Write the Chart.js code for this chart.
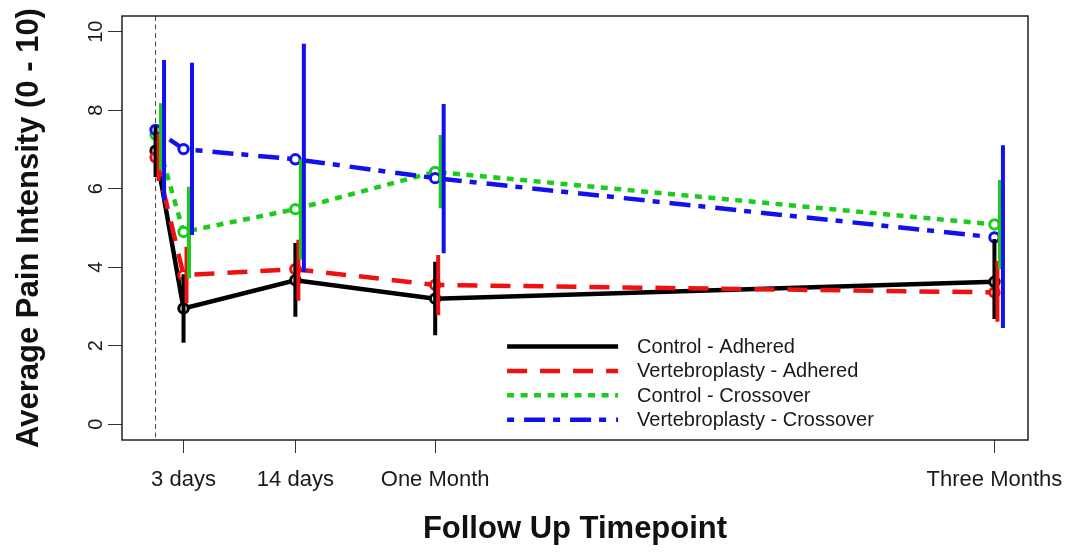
<!DOCTYPE html>
<html>
<head>
<meta charset="utf-8">
<title>Average Pain Intensity by Follow Up Timepoint</title>
<script src="https://cdn.jsdelivr.net/npm/chart.js@4.4.1/dist/chart.umd.min.js"></script>
<style>
  html, body { margin: 0; padding: 0; background: #fff; }
  #wrap { width: 1074px; height: 552px; }
</style>
</head>
<body>
<div id="wrap"><canvas id="painChart" width="1074" height="552"></canvas></div>
<script>
// Timepoints on the x axis (days, 0 = baseline)
var timepointX = [0, 2.8, 14, 28, 84];
var xTickLabels = ["3 days", "14 days", "One Month", "Three Months"];
var yTickValues = [0, 2, 4, 6, 8, 10];

var seriesNames = ["Control - Adhered", "Vertebroplasty - Adhered", "Control - Crossover", "Vertebroplasty - Crossover"];

// Mean pain score
var controlAdhered    = [6.97, 2.95, 3.67, 3.20, 3.63];
var vertebroAdhered   = [6.80, 3.80, 3.95, 3.55, 3.36];
var controlCrossover  = [7.38, 4.90, 5.48, 6.43, 5.09];
var vertebroCrossover = [7.50, 7.01, 6.75, 6.27, 4.76];

// Error bars (low / high)
var controlAdheredLow     = [6.30, 2.08, 2.74, 2.27, 2.68];
var controlAdheredHigh    = [7.60, 3.82, 4.62, 4.14, 4.72];
var vertebroAdheredLow    = [6.20, 3.09, 3.15, 2.78, 2.61];
var vertebroAdheredHigh   = [7.40, 4.52, 4.70, 4.31, 4.16];
var controlCrossoverLow   = [6.48, 3.72, 4.20, 5.50, 3.95];
var controlCrossoverHigh  = [8.18, 6.05, 6.75, 7.37, 6.22];
var vertebroCrossoverLow  = [5.71, 4.82, 3.87, 4.36, 2.45];
var vertebroCrossoverHigh = [9.28, 9.21, 9.69, 8.16, 7.11];

// small sideways shift of each group's error bar so they don't overlap
var barShift = [0, 0.3, 0.55, 0.85];

var FONT = '"Liberation Sans", Arial, Helvetica, sans-serif';

function points(vals) {
  return vals.map(function (v, i) { return { x: timepointX[i], y: v }; });
}

function bars(low, high, shift) {
  var out = [];
  for (var i = 0; i < low.length; i++) {
    out.push({ x: timepointX[i] + shift, y: low[i] });
    out.push({ x: timepointX[i] + shift, y: high[i] });
    out.push({ x: timepointX[i] + shift, y: null });
  }
  return out;
}

function lineSet(label, vals, color, dash, order) {
  return {
    label: label,
    data: points(vals),
    borderColor: color,
    borderWidth: 4.5,
    borderDash: dash,
    borderCapStyle: 'butt',
    pointRadius: 4.7,
    pointHoverRadius: 4.7,
    pointBorderWidth: 3,
    pointBorderColor: color,
    pointBackgroundColor: '#fff',
    tension: 0,
    fill: false,
    order: order,
    inKey: true
  };
}

function barSet(low, high, shift, color, order) {
  return {
    data: bars(low, high, shift),
    borderColor: color,
    borderWidth: 4,
    borderCapStyle: 'butt',
    pointRadius: 0,
    pointHoverRadius: 0,
    spanGaps: false,
    fill: false,
    order: order
  };
}

// dashed baseline line + plot box
var frame = {
  id: 'frame',
  beforeDatasetsDraw: function (chart) {
    var ctx = chart.ctx, a = chart.chartArea;
    var x0 = chart.scales.x.getPixelForValue(timepointX[0]);
    ctx.save();
    ctx.strokeStyle = '#444';
    ctx.lineWidth = 1;
    ctx.setLineDash([5, 3.5]);
    ctx.beginPath();
    ctx.moveTo(x0, a.top);
    ctx.lineTo(x0, a.bottom);
    ctx.stroke();
    ctx.setLineDash([]);
    ctx.strokeStyle = '#222';
    ctx.lineWidth = 1.5;
    ctx.strokeRect(a.left, a.top, a.right - a.left, a.bottom - a.top);
    ctx.restore();
  }
};

// R style legend (lines only, no box)
var lineKey = {
  id: 'lineKey',
  afterDraw: function (chart) {
    var ctx = chart.ctx;
    var x = chart.scales.x.getPixelForValue(35.2);
    var y = chart.scales.y.getPixelForValue(1.98);
    ctx.save();
    ctx.font = '20px ' + FONT;
    ctx.textBaseline = 'middle';
    ctx.textAlign = 'left';
    chart.data.datasets.forEach(function (ds) {
      if (!ds.inKey) return;
      ctx.strokeStyle = ds.borderColor;
      ctx.lineWidth = ds.borderWidth;
      ctx.lineCap = 'butt';
      ctx.setLineDash(ds.borderDash || []);
      ctx.beginPath();
      ctx.moveTo(x, y);
      ctx.lineTo(x + 111, y);
      ctx.stroke();
      ctx.fillStyle = '#1a1a1a';
      ctx.fillText(ds.label, x + 130, y + 1);
      y += 24.4;
    });
    ctx.restore();
  }
};

var ctx = document.getElementById('painChart').getContext('2d');
var chart = new Chart(ctx, {
  type: 'line',
  data: {
    datasets: [
      lineSet(seriesNames[0], controlAdhered, '#000000', [], 7),
      lineSet(seriesNames[1], vertebroAdhered, '#ee1111', [20, 13], 6),
      lineSet(seriesNames[2], controlCrossover, '#1ccc1c', [7, 6.5], 5),
      lineSet(seriesNames[3], vertebroCrossover, '#1111ee', [7, 10, 21, 8], 4),
      barSet(controlAdheredLow, controlAdheredHigh, barShift[0], '#000000', 3),
      barSet(vertebroAdheredLow, vertebroAdheredHigh, barShift[1], '#ee1111', 2),
      barSet(controlCrossoverLow, controlCrossoverHigh, barShift[2], '#1ccc1c', 1),
      barSet(vertebroCrossoverLow, vertebroCrossoverHigh, barShift[3], '#1111ee', 0)
    ]
  },
  options: {
    responsive: false,
    animation: false,
    events: [],
    layout: { padding: { left: 0, top: 16, right: 46, bottom: 0 } },
    plugins: {
      legend: { display: false },
      tooltip: { enabled: false }
    },
    scales: {
      x: {
        type: 'linear',
        min: -3.36,
        max: 87.36,
        offset: false,
        border: { display: false },
        grid: { drawOnChartArea: false, drawTicks: true, tickLength: 13, color: '#333', lineWidth: 1 },
        afterBuildTicks: function (scale) {
          scale.ticks = timepointX.slice(1).map(function (v) { return { value: v }; });
        },
        afterFit: function (scale) {
          scale.height = 112;
          scale.paddingLeft = 0;
          scale.paddingRight = 0;
        },
        ticks: {
          autoSkip: false,
          maxRotation: 0,
          minRotation: 0,
          padding: 14,
          color: '#1a1a1a',
          font: { family: FONT, size: 22 },
          callback: function (value, index) { return xTickLabels[index]; }
        },
        title: {
          display: true,
          text: 'Follow Up Timepoint',
          color: '#111',
          font: { family: FONT, size: 31, weight: 'bold' },
          padding: { top: 0, bottom: 3.5 }
        }
      },
      y: {
        type: 'linear',
        min: -0.4,
        max: 10.4,
        border: { display: false },
        grid: { drawOnChartArea: false, drawTicks: true, tickLength: 14, color: '#333', lineWidth: 1 },
        afterBuildTicks: function (scale) {
          scale.ticks = yTickValues.map(function (v) { return { value: v }; });
        },
        afterFit: function (scale) {
          scale.width = 122;
          scale.paddingTop = 0;
          scale.paddingBottom = 0;
        },
        ticks: {
          minRotation: 90,
          maxRotation: 90,
          crossAlign: 'center',
          padding: 0,
          color: '#1a1a1a',
          font: { family: FONT, size: 20 }
        },
        title: {
          display: true,
          text: 'Average Pain Intensity (0 - 10)',
          color: '#111',
          font: { family: FONT, size: 31, weight: 'bold' },
          padding: { top: 11, bottom: 0 }
        }
      }
    }
  },
  plugins: [frame, lineKey]
});
</script>
</body>
</html>
